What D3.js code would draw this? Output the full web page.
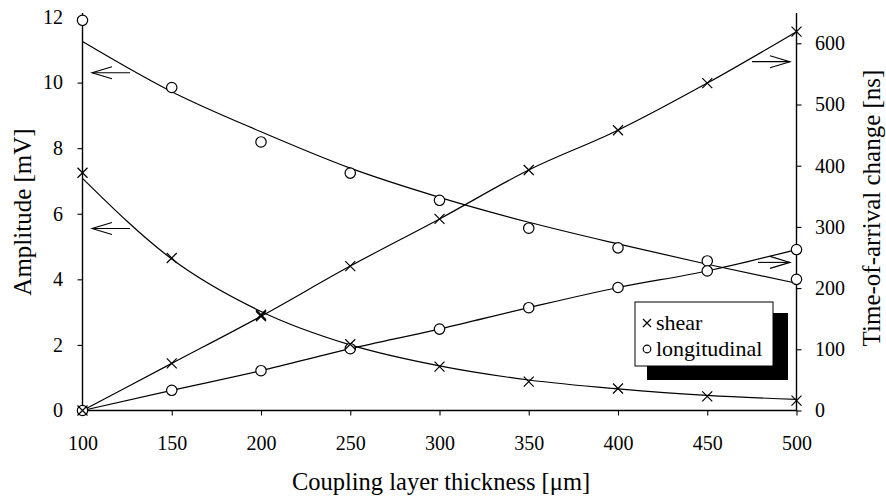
<!DOCTYPE html>
<html>
<head>
<meta charset="utf-8">
<script src="https://cdn.jsdelivr.net/npm/d3@7"></script>
<style>
  html, body { margin: 0; padding: 0; background: #fff; }
  svg { display: block; }
  svg text { font-family: "Liberation Serif", "Times New Roman", serif; fill: #000; }
</style>
</head>
<body>
<svg id="chart" width="886" height="500"></svg>
<script>
// Coupling layer thickness [µm]
const thickness = [100, 150, 200, 250, 300, 350, 400, 450, 500];

// Measured amplitude [mV]
const shearAmplitude = [7.25, 4.65, 2.92, 2.02, 1.34, 0.88, 0.67, 0.43, 0.30];
const longAmplitude  = [11.9, 9.85, 8.19, 7.24, 6.41, 5.56, 4.96, 4.56, 4.00];

// Fitted amplitude curves [mV]
const shearAmplitudeFit = [7.08, 4.62, 3.02, 2.00, 1.36, 0.93, 0.66, 0.46, 0.34];
const longAmplitudeFit  = [11.25, 9.72, 8.50, 7.39, 6.50, 5.74, 5.08, 4.46, 3.88];

// Time-of-arrival change [ns]
const shearTime = [0, 77, 154, 236, 313, 393, 458, 535, 619];
const longTime  = [0, 33, 65, 101, 133, 168, 201, 228, 263];

const xTicks = [100, 150, 200, 250, 300, 350, 400, 450, 500];
const leftTicks = [0, 2, 4, 6, 8, 10, 12];
const rightTicks = [0, 100, 200, 300, 400, 500, 600];

const legendLabels = ["shear", "longitudinal"];

const svg = d3.select("#chart");
const serif = '"Liberation Serif", "Times New Roman", serif';

const x = d3.scaleLinear().domain([100, 500]).range([82.5, 796.5]);
const yL = d3.scaleLinear().domain([0, 12]).range([410.5, 17]);
const yR = d3.scaleLinear().domain([0, 600]).range([410.5, 43.3]);

// Axes
const gx = svg.append("g").attr("transform", `translate(0,${yL(0)})`)
  .call(d3.axisBottom(x).tickValues(xTicks).tickSizeOuter(0).tickSize(5).tickPadding(20));
const gl = svg.append("g").attr("transform", `translate(${x(100)},0)`)
  .call(d3.axisLeft(yL).tickValues(leftTicks).tickSizeOuter(0).tickSize(5).tickPadding(14.5));
const gr = svg.append("g").attr("transform", `translate(${x(500)},0)`)
  .call(d3.axisRight(yR).tickValues(rightTicks).tickSizeOuter(0).tickSize(5).tickPadding(13.5));

[gx, gl, gr].forEach(g => {
  g.attr("font-family", null);
  g.selectAll("text").style("font-family", serif).style("font-size", "20px").attr("fill", "#000");
  g.selectAll("line").attr("stroke", "#000").attr("stroke-width", 1.1);
  g.select(".domain").attr("stroke", "#000").attr("stroke-width", 1.4);
});
// vertical axes run up to the top of the plot
gl.select(".domain").attr("d", `M0,${yL(0)}V${yL(12) - 4}`);
gr.select(".domain").attr("d", `M0,${yL(0)}V13`);
gx.select(".domain").attr("d", `M${x(100)},0H${x(500)}`);

// Axis titles
svg.append("text")
  .attr("transform", `translate(31,212) rotate(-90)`)
  .attr("text-anchor", "middle").style("font-family", serif).style("font-size", "25px")
  .text("Amplitude [mV]");
svg.append("text")
  .attr("transform", `translate(880,208) rotate(-90)`)
  .attr("text-anchor", "middle").style("font-family", serif).style("font-size", "25px")
  .text("Time-of-arrival change [ns]");
svg.append("text")
  .attr("x", 441).attr("y", 490)
  .attr("text-anchor", "middle").style("font-family", serif).style("font-size", "24.5px")
  .text("Coupling layer thickness [\u03BCm]");

// Curves
const lineL = d3.line().x((d, i) => x(thickness[i])).y(d => yL(d)).curve(d3.curveMonotoneX);
const lineR = d3.line().x((d, i) => x(thickness[i])).y(d => yR(d)).curve(d3.curveMonotoneX);

const curves = svg.append("g").attr("fill", "none").attr("stroke", "#000").attr("stroke-width", 1.2);
curves.append("path").attr("d", lineL(longAmplitudeFit));
curves.append("path").attr("d", lineL(shearAmplitudeFit));
curves.append("path").attr("d", lineR(shearTime));
curves.append("path").attr("d", lineR(longTime));

// Markers
function crosses(vals, scale) {
  const g = svg.append("g").attr("stroke", "#000").attr("stroke-width", 1.2);
  vals.forEach((v, i) => {
    const cx = x(thickness[i]), cy = scale(v), s = 5;
    g.append("path").attr("d", `M${cx - s},${cy - s}L${cx + s},${cy + s}M${cx - s},${cy + s}L${cx + s},${cy - s}`);
  });
}
function circles(vals, scale) {
  svg.append("g").selectAll("circle").data(vals).join("circle")
    .attr("cx", (d, i) => x(thickness[i])).attr("cy", d => scale(d)).attr("r", 5.2)
    .attr("fill", "#fff").attr("stroke", "#000").attr("stroke-width", 1.2);
}
circles(longAmplitude, yL);
circles(longTime, yR);
crosses(shearAmplitude, yL);
crosses(shearTime, yR);

// Arrows pointing at the axis each curve belongs to
function arrow(x1, x2, yv) {
  const dir = Math.sign(x2 - x1);
  const g = svg.append("g").attr("stroke", "#000").attr("stroke-width", 1.1).attr("fill", "none");
  g.append("path").attr("d", `M${x1},${yv}L${x2},${yv}`);
  g.append("path").attr("d", `M${x2 - dir * 20},${yv - 6}L${x2},${yv}L${x2 - dir * 20},${yv + 6}`);
}
arrow(130, 92, yL(10.3));
arrow(130, 92, yL(5.55));
arrow(752, 790, yR(570));
arrow(758, 790, yR(242));

// Legend with drop shadow
const lg = svg.append("g");
lg.append("rect").attr("x", 647).attr("y", 313).attr("width", 141).attr("height", 67).attr("fill", "#000");
lg.append("rect").attr("x", 635).attr("y", 302).attr("width", 138).attr("height", 64)
  .attr("fill", "#fff").attr("stroke", "#000").attr("stroke-width", 1);
{
  const cx = 647, cy = 323, s = 4;
  lg.append("path").attr("d", `M${cx - s},${cy - s}L${cx + s},${cy + s}M${cx - s},${cy + s}L${cx + s},${cy - s}`)
    .attr("stroke", "#000").attr("stroke-width", 1.2);
  lg.append("circle").attr("cx", 647).attr("cy", 349).attr("r", 3.8)
    .attr("fill", "none").attr("stroke", "#000").attr("stroke-width", 1.2);
}
lg.selectAll("text.lab").data(legendLabels).join("text")
  .attr("class", "lab")
  .attr("x", 656).attr("y", (d, i) => 330 + i * 26)
  .style("font-family", serif).style("font-size", "22px")
  .text(d => d);
</script>
</body>
</html>
